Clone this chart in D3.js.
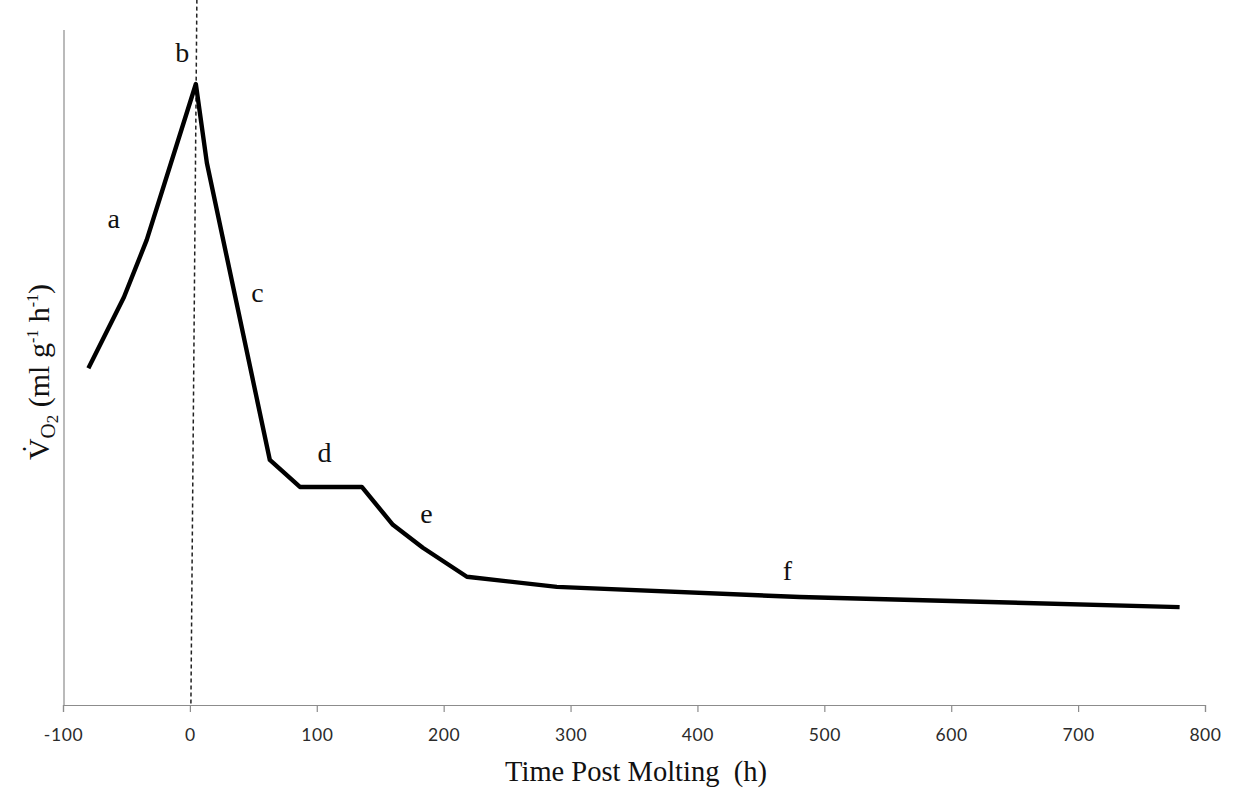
<!DOCTYPE html>
<html>
<head>
<meta charset="utf-8">
<script src="https://cdn.jsdelivr.net/npm/d3@7"></script>
<style>
  html, body { margin: 0; padding: 0; background: #fff; }
  svg { display: block; }
</style>
</head>
<body>
<svg id="chart" width="1235" height="794"></svg>
<script>
// ---- data ----
const timeHours = [-80, -52, -34, 4.7, 13.4, 63, 86.7, 135.5, 160, 183.6, 218.3, 289.2, 480.7, 780];
const vo2Values = [49.9, 60.4, 68.9, 92.0, 80.3, 36.3, 32.3, 32.3, 26.7, 23.3, 19.0, 17.5, 16.0, 14.5];
const xTicks = [-100, 0, 100, 200, 300, 400, 500, 600, 700, 800];
const phaseLabels = ["a", "b", "c", "d", "e", "f"];
const phaseLabelX = [-60, -6, 53.2, 106, 186.4, 471];
const phaseLabelY = [70.7, 95.3, 59.7, 36.0, 27.0, 18.5];
const moltLineX = [5.5, 0.8];
const moltLineY = [104.5, 0];

(function () {
// ---- layout ----
const svg = d3.select("#chart");
const mLeft = 63, mRight = 1205, mTop = 30, mBottom = 705;

const x = d3.scaleLinear().domain([-100, 800]).range([mLeft, mRight]);
const y = d3.scaleLinear().domain([0, 100]).range([mBottom, mTop]);

// y axis line (no ticks)
svg.append("line")
  .attr("x1", mLeft + 1).attr("x2", mLeft + 1)
  .attr("y1", y(100)).attr("y2", y(0))
  .attr("stroke", "#8c8c8c").attr("stroke-width", 1.2);

// x axis
const xAxis = d3.axisBottom(x).tickValues(xTicks).tickSize(7).tickPadding(17)
  .tickFormat(d => String(d));
const gx = svg.append("g").attr("transform", `translate(0,${mBottom})`).call(xAxis);
gx.select(".domain").attr("stroke", "#8c8c8c").attr("stroke-width", 1.2);
gx.selectAll(".tick line").attr("stroke", "#8c8c8c").attr("stroke-width", 1.2);
gx.selectAll(".tick text")
  .attr("font-family", "Lato, 'Open Sans', sans-serif")
  .attr("font-size", 17.5)
  .attr("letter-spacing", 0.6)
  .attr("fill", "#2b2b2b");

// dashed molting line
svg.append("line")
  .attr("x1", x(moltLineX[0])).attr("y1", y(moltLineY[0]))
  .attr("x2", x(moltLineX[1])).attr("y2", y(moltLineY[1]))
  .attr("stroke", "#222").attr("stroke-width", 1.5)
  .attr("stroke-dasharray", "4,3");

// main curve
const pts = timeHours.map((t, i) => [t, vo2Values[i]]);
const line = d3.line().x(d => x(d[0])).y(d => y(d[1]));
svg.append("path")
  .datum(pts)
  .attr("d", line)
  .attr("fill", "none")
  .attr("stroke", "#000")
  .attr("stroke-width", 4.4)
  .attr("stroke-linejoin", "round")
  .attr("stroke-linecap", "butt");

// phase letters
svg.selectAll("text.phase")
  .data(phaseLabels)
  .join("text")
  .attr("class", "phase")
  .attr("x", (d, i) => x(phaseLabelX[i]))
  .attr("y", (d, i) => y(phaseLabelY[i]))
  .attr("text-anchor", "middle")
  .attr("font-family", "'Liberation Serif', 'Times New Roman', serif")
  .attr("font-size", 28)
  .attr("fill", "#111")
  .text(d => d);

// x title
svg.append("text")
  .attr("x", 636).attr("y", 781)
  .attr("text-anchor", "middle")
  .attr("font-family", "'Liberation Serif', 'Times New Roman', serif")
  .attr("font-size", 28.5)
  .attr("fill", "#111")
  .attr("xml:space", "preserve")
  .text("Time Post Molting  (h)");

// y title
const yt = svg.append("text")
  .attr("transform", "translate(49,372) rotate(-90)")
  .attr("text-anchor", "middle")
  .attr("font-family", "'Liberation Serif', 'Times New Roman', serif")
  .attr("font-size", 30)
  .attr("fill", "#111");
yt.append("tspan").text("V\u0307");
yt.append("tspan").attr("font-size", 21).attr("dy", 6).text("O");
yt.append("tspan").attr("font-size", 17).attr("dy", 3).text("2");
yt.append("tspan").attr("dy", -9).text(" (ml g");
yt.append("tspan").attr("font-size", 16).attr("dy", -11).text("-1");
yt.append("tspan").attr("dy", 11).text(" h");
yt.append("tspan").attr("font-size", 16).attr("dy", -11).text("-1");
yt.append("tspan").attr("dy", 11).text(")");
})();
</script>
</body>
</html>
